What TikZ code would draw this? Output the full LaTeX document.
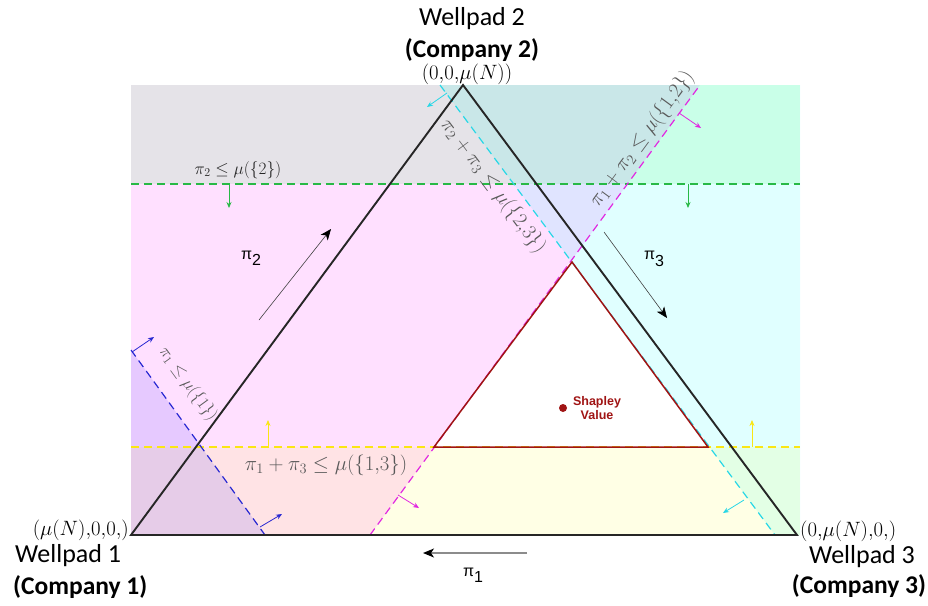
\documentclass[tikz,border=0pt]{standalone}
\usepackage{fontspec}
\newfontfamily\calibri{Carlito}
\newfontfamily\arial{Liberation Sans}
\usetikzlibrary{arrows.meta,calc}
\definecolor{consgreen}{RGB}{40,185,70}
\definecolor{consyellow}{RGB}{250,230,20}
\definecolor{consblue}{RGB}{40,40,210}
\definecolor{consmag}{RGB}{225,40,225}
\definecolor{conscyan}{RGB}{40,215,230}
\definecolor{corered}{RGB}{160,20,20}
\definecolor{fillmag}{RGB}{255,0,255}
\definecolor{fillcyan}{RGB}{0,255,255}
\definecolor{fillgreen}{RGB}{0,255,30}
\definecolor{fillyellow}{RGB}{255,255,0}
\definecolor{fillblue}{RGB}{60,50,255}

\begin{document}
\begin{tikzpicture}[x=1pt, y=-1pt,
  tri/.style={line width=1.9pt, color=black!85},
  core/.style={line width=1.5pt, color=corered},
  cons/.style={dash pattern=on 8pt off 5pt, line width=1.2pt},
  carr/.style={-{Stealth[length=6pt,width=5pt]}, line width=0.8pt},
  parr/.style={-{Stealth[length=11pt,width=9pt,inset=3pt,color=black]}, line width=0.6pt},
  shade/.style={fill opacity=0.12},
  vlab/.style={font=\fontsize{22.5}{25}\selectfont, inner sep=1pt},
  pad/.style={font=\calibri\fontsize{26}{29}\selectfont, inner sep=1pt},
  padb/.style={font=\calibri\bfseries\fontsize{25.5}{29}\selectfont, inner sep=1pt},
  clab/.style={font=\fontsize{19.5}{22}\selectfont, color=black!65, inner sep=1pt},
  plab/.style={font=\arial\fontsize{16}{19}\selectfont, inner sep=1pt},
]
\useasboundingbox (0,0) rectangle (928,605);

% ─── Corners of the simplex and of the core ───
\coordinate (w1) at (131,535);
\coordinate (w2) at (463,85);
\coordinate (w3) at (797,535);
\coordinate (c1) at (434,447);
\coordinate (c2) at (572,262);
\coordinate (c3) at (708,447);

% ─── Constraint lines (end points) ───
\coordinate (g1) at (131,184); \coordinate (g2) at (800,184);
\coordinate (y1) at (131,447); \coordinate (y2) at (800,447);
\coordinate (b1) at (131,350); \coordinate (b2) at (265,535);
\coordinate (m1) at (370,535); \coordinate (m2) at (700,85);
\coordinate (q1) at (440,85);  \coordinate (q2) at (775,535);

% ─── Infeasible half-planes ───
\fill[fillmag, shade] (131,85) -- (m2) -- (m1) -- (131,535) -- cycle;
\fill[fillcyan, shade] (q1) -- (800,85) -- (800,535) -- (q2) -- cycle;
\fill[fillgreen, fill opacity=0.1] (131,85) rectangle (g2);
\fill[fillyellow, fill opacity=0.1] (y1) rectangle (800,535);
\fill[fillblue, fill opacity=0.13] (b1) -- (b2) -- (131,535) -- cycle;
\fill[white] (c1) -- (c2) -- (c3) -- cycle;

% ─── Dashed constraints ───
\draw[cons, consgreen] (g1) -- (g2);
\draw[cons, consyellow] (y1) -- (y2);
\draw[cons, consblue] (b1) -- (b2);
\draw[cons, consmag] (m1) -- (m2);
\draw[cons, conscyan] (q1) -- (q2);

% ─── Feasible-side arrows ───
\coordinate (ga1) at (229,184); \coordinate (gb1) at (229,208);
\coordinate (ga2) at (688,184); \coordinate (gb2) at (688,208);
\coordinate (ya1) at (268,447); \coordinate (yb1) at (268,420);
\coordinate (ya2) at (752,447); \coordinate (yb2) at (752,420);
\coordinate (ba1) at (132,352); \coordinate (bb1) at (154,337);
\coordinate (ba2) at (260,527); \coordinate (bb2) at (282,514);
\coordinate (ma1) at (679,113); \coordinate (mb1) at (701,128);
\coordinate (ma2) at (398,495); \coordinate (mb2) at (419,508);
\coordinate (qa1) at (447,93);  \coordinate (qb1) at (427,107);
\coordinate (qa2) at (744,500); \coordinate (qb2) at (723,513);
\draw[carr, consgreen] (ga1) -- (gb1);
\draw[carr, consgreen] (ga2) -- (gb2);
\draw[carr, consyellow] (ya1) -- (yb1);
\draw[carr, consyellow] (ya2) -- (yb2);
\draw[carr, consblue] (ba1) -- (bb1);
\draw[carr, consblue] (ba2) -- (bb2);
\draw[carr, consmag] (ma1) -- (mb1);
\draw[carr, consmag] (ma2) -- (mb2);
\draw[carr, conscyan] (qa1) -- (qb1);
\draw[carr, conscyan] (qa2) -- (qb2);

% ─── Simplex and core ───
\draw[tri] (w1) -- (w2) -- (w3) -- cycle;
\draw[core] (c1) -- (c2) -- (c3) -- cycle;

% ─── Constraint labels ───
\node[clab, font=\fontsize{17.5}{20}\selectfont, color=black!85] (lg) at (238,170) {$\pi_2 \le \mu(\{2\})$};
\node[clab, font=\fontsize{18}{20}\selectfont, rotate=-54] (lb) at (188,384) {$\pi_1 \le \mu(\{1\})$};
\node[clab] (ly) at (326,465) {$\pi_1 + \pi_3 \le \mu(\{1{,}3\})$};
\node[clab, rotate=-53.3] (lq) at (493,186) {$\pi_2 + \pi_3 \le \mu(\{2{,}3\})$};
\node[clab, rotate=53.7] (lm) at (642,139) {$\pi_1 + \pi_2 \le \mu(\{1{,}2\})$};

% ─── Direction arrows ───
\coordinate (p2s) at (259,320); \coordinate (p2e) at (331,229);
\coordinate (p3s) at (604,232); \coordinate (p3e) at (667,318);
\coordinate (p1s) at (527,553); \coordinate (p1e) at (423,553);
\draw[parr, color=black!75] (p2s) -- (p2e);
\draw[parr, color=black!75] (p3s) -- (p3e);
\draw[parr, color=black!45, line width=1.3pt] (p1s) -- (p1e);
\node[plab] (n2) at (251,258) {π\raisebox{-0.4em}{2}};
\node[plab] (n3) at (654,259) {π\raisebox{-0.4em}{3}};
\node[plab] (n1) at (473,575) {π\raisebox{-0.4em}{1}};

% ─── Shapley value ───
\node[circle, fill=corered, inner sep=0pt, minimum size=8pt] (shap) at (563,408) {};
\node[font=\arial\bfseries\fontsize{12.5}{14}\selectfont, color=corered, align=center, inner sep=1pt] (shaplab) at (597,408) {Shapley\\Value};

% ─── Wellpads ───
\node[vlab, anchor=east] (v1) at (130,530) {$(\mu(N){,}0{,}0{,})$};
\node[pad, anchor=west] (wp1) at (14,556) {Wellpad 1};
\node[padb, anchor=west] (cp1) at (12,587) {(Company 1)};
\node[vlab] (v2) at (467,74) {$(0{,}0{,}\mu(N))$};
\node[pad] (wp2) at (472,19) {Wellpad 2};
\node[padb] (cp2) at (472,50) {(Company 2)};
\node[vlab, anchor=west] (v3) at (799,531) {$(0{,}\mu(N){,}0{,})$};
\node[pad] (wp3) at (862,557) {Wellpad 3};
\node[padb] (cp3) at (859,586) {(Company 3)};

\end{tikzpicture}
\end{document}
